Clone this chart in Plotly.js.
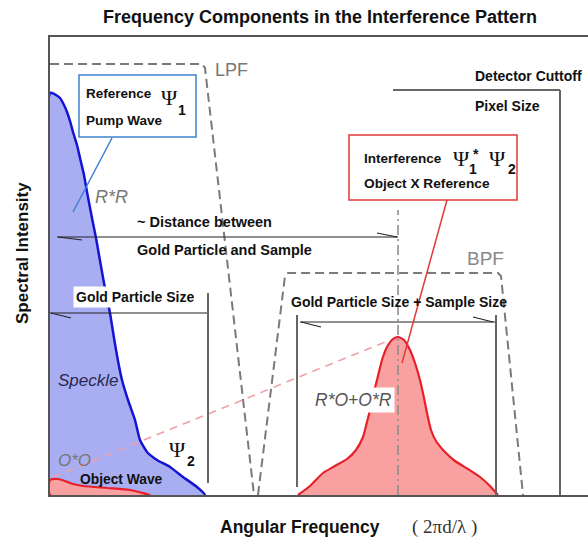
<!DOCTYPE html>
<html><head><meta charset="utf-8">
<script src="https://cdn.plot.ly/plotly-3.0.1.min.js"></script>
<style>html,body{margin:0;padding:0;background:#fff}#chart{width:588px;height:545px}</style>
</head><body><div id="chart"></div>
<script>
// Spectral curves: angular frequency (arbitrary units) vs spectral intensity (arbitrary units)
const speckleX = [0,0,2,6,10,14,17,20,23,27,30,34,37,42,46,49,54,60,64,68,72,78,85,90,97,107,120,133,147,155,0];
const speckleY = [0,402,402,400,397,390,383,374,363,350,337,320,303,277,257,240,212,182,157,134,115,95,75,55,43,35,28,18,8,0,0];
const objectX = [0,0,8,15,23,33,57,80,93,100,0];
const objectY = [0,15,16,14,11,9,7,5,2,0,0];
const crossX = [248,260,273,285,297,306,313,317,320,324,327,332,337,343,348,354,360,365,370,374,377,381,386,395,405,418,430,440,448];
const crossY = [0,9,22,29,36,45,58,73,85,103,115,135,148,156,158,155,145,132,115,97,82,65,54,43,34,26,18,9,0];
// Filter windows
const lpfX = [0,152,155,204];
const lpfY = [431,431,427,0];
const bpfX = [208,235,238,448,451,473];
const bpfY = [0,219,222,222,219,0];
// Guide line (pink dashed from O*O to the interference peak)
const guideX = [3,340];
const guideY = [18,155];

const FONT = 'Liberation Sans, Arial, sans-serif';
const SERIF = 'Liberation Serif, Times New Roman, serif';

const traces = [
  {x: speckleX, y: speckleY, mode:'lines', fill:'toself', fillcolor:'#a9aef2',
   line:{color:'#1414d2', width:2.5, shape:'spline', smoothing:0.5}, hoverinfo:'skip'},
  {x: objectX, y: objectY, mode:'lines', fill:'toself', fillcolor:'#f9a0a0',
   line:{color:'#e8202a', width:2.2, shape:'spline', smoothing:0.6}, hoverinfo:'skip'},
  {x: crossX, y: crossY, mode:'lines', fill:'tozeroy', fillcolor:'#f9a0a0',
   line:{color:'#e8202a', width:2.2, shape:'spline', smoothing:0.6}, hoverinfo:'skip'},
  {x: lpfX, y: lpfY, mode:'lines', line:{color:'#7a7a7a', width:2, dash:'9px,5px'}, hoverinfo:'skip'},
  {x: bpfX, y: bpfY, mode:'lines', line:{color:'#7a7a7a', width:2, dash:'9px,5px'}, hoverinfo:'skip'},
  {x: guideX, y: guideY, mode:'lines', line:{color:'#f2a0a8', width:1.6, dash:'8px,6px'}, hoverinfo:'skip'}
];

function seg(x0,y0,x1,y1,color,width,dash){
  return {type:'line', xref:'x', yref:'y', x0:x0, y0:y0, x1:x1, y1:y1,
          line:{color:color, width:width, dash:dash||'solid'}};
}
const DARK = '#222', GRAY = '#666';
const shapes = [
  // distance between gold particle and sample
  seg(7,258,348,258,DARK,1.2), seg(8,258,32,255,DARK,1.2), seg(327,262,347,258,DARK,1.2),
  seg(348,0,348,285,'#888',1.5,'10px,4px,2px,4px'),
  // gold particle size
  seg(0,182,158,182,DARK,1.2), seg(1,182,21,177,DARK,1.2), seg(158,12,158,202,GRAY,2),
  // gold particle size + sample size
  seg(250,173,445,173,DARK,1.2), seg(251,173,271,168,DARK,1.2), seg(423,178,443,173,DARK,1.2),
  seg(247,8,247,180,GRAY,2), seg(446,0,446,180,GRAY,2),
  // detector cutoff / pixel size
  seg(343,405,510,405,GRAY,2), seg(510,0,510,405,GRAY,2),
  // callout boxes and pointers
  {type:'rect', xref:'x', yref:'y', x0:29, y0:358, x1:146, y1:420, line:{color:'#3c82d0', width:1.5}, fillcolor:'rgba(255,255,255,1)'},
  seg(62,357,23,283,'#3c82d0',1.5),
  {type:'rect', xref:'x', yref:'y', x0:299, y0:295, x1:467, y1:360, line:{color:'#e03a3a', width:1.5}, fillcolor:'rgba(255,255,255,1)'},
  seg(397,295,352,132,'#e03a3a',1.5)
];

function ann(text,x,y,size,opts){
  const o = Object.assign({xanchor:'left', yanchor:'middle', color:'#111', family:FONT, ref:'data'}, opts||{});
  const a = {text:text, x:x, y:y, xref:o.ref==='paper'?'paper':'x', yref:o.ref==='paper'?'paper':'y', showarrow:false,
    xanchor:o.xanchor, yanchor:o.yanchor, font:{family:o.family, size:size, color:o.color}};
  if (o.bg) { a.bgcolor = o.bg; a.borderpad = 2; }
  if (o.angle !== undefined) a.textangle = o.angle;
  return a;
}
const annotations = [
  ann('LPF',163,425,18,{color:'#777'}),
  ann('BPF',415,237,19,{color:'#888'}),
  ann('<b>Detector Cuttoff</b>',423,419,14),
  ann('<b>Pixel Size</b>',423,389,14),
  ann('<b>Reference</b>',34,402,13.5),
  ann('<b>Pump Wave</b>',34,375,13.5),
  ann('Ψ',109,398,22,{family:SERIF}),
  ann('<b>1</b>',126,385,14),
  ann('<i>R*R</i>',61,298,18,{xanchor:'center', color:'#777'}),
  ann('<b>~ Distance between</b>',85,273,14.5),
  ann('<b>Gold Particle and Sample</b>',85,245,14.5),
  ann('<b>Gold Particle Size</b>',23,198,14,{bg:'#ffffff'}),
  ann('<b>Gold Particle Size + Sample Size</b>',239,193,14),
  ann('<b>Interference</b>',312,337,13.5),
  ann('Ψ',401,337,22,{family:SERIF}),
  ann('<b>1</b>',417,326,14),
  ann('<b>*</b>',421,341,14),
  ann('Ψ',437,337,22,{family:SERIF}),
  ann('<b>2</b>',456,326,14),
  ann('<b>Object X Reference</b>',312,312,13.7),
  ann('<i>Speckle</i>',6,115,17,{color:'#282850'}),
  ann('<i>O*O</i>',6,35,17,{color:'#777'}),
  ann('<b>Object Wave</b>',28,16,13.8),
  ann('Ψ',117,46,22,{family:SERIF}),
  ann('<b>2</b>',135,34,14),
  ann('<i>R*O+O*R</i>',262,95,17.5,{color:'#555', bg:'#ffffff'}),
  // axis titles (paper coordinates, outside the plotting area)
  ann('<b>Spectral Intensity</b>',-28/538,242/458,17,{ref:'paper', xanchor:'center', angle:-90}),
  ann('<b>Angular Frequency</b>',250/538,-32/458,17.5,{ref:'paper', xanchor:'center'}),
  ann('( 2πd/λ )',394/538,-32/458,19,{ref:'paper', xanchor:'center', family:SERIF, color:'#333'})
];

const layout = {
  width:588, height:545,
  margin:{l:50, r:0, t:37, b:50, pad:0},
  paper_bgcolor:'#fff', plot_bgcolor:'#fff',
  showlegend:false,
  title:{text:'<b>Frequency Components in the Interference Pattern</b>',
         font:{family:FONT, size:18, color:'#111'},
         x:320/588, xanchor:'center', y:1-17/545, yanchor:'middle'},
  xaxis:{range:[0,538], showgrid:false, zeroline:false, showticklabels:false, ticks:'',
         showline:true, linecolor:'#555', linewidth:2, mirror:true, fixedrange:true, layer:'below traces'},
  yaxis:{range:[0,458], showgrid:false, zeroline:false, showticklabels:false, ticks:'',
         showline:true, linecolor:'#555', linewidth:2, mirror:false, fixedrange:true, layer:'below traces'},
  shapes:shapes,
  annotations:annotations
};
Plotly.newPlot('chart', traces, layout, {staticPlot:true, displayModeBar:false});
</script>
</body></html>
